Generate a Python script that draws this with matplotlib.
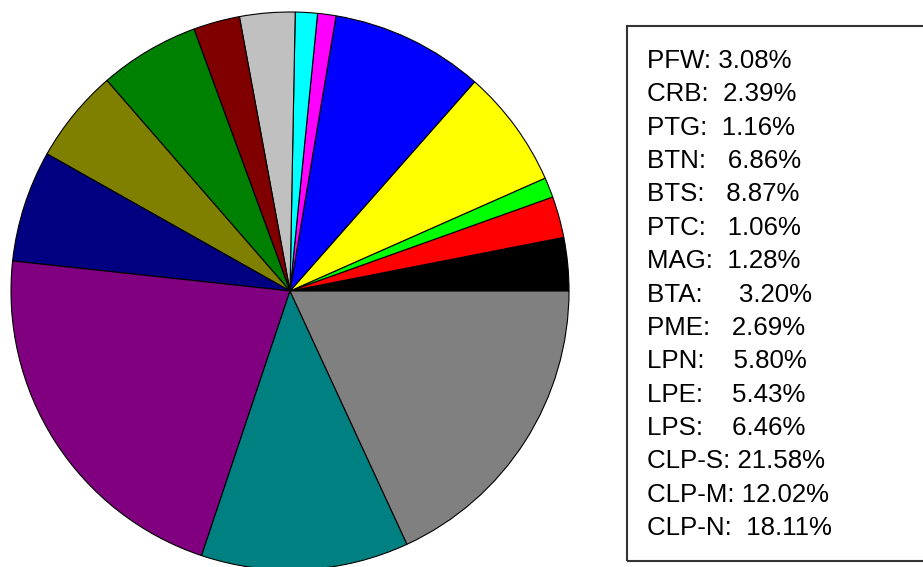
import matplotlib
matplotlib.use("Agg")
import matplotlib.pyplot as plt
from matplotlib.patches import Rectangle

# Slice data, counterclockwise from 3 o'clock
names = ["PFW", "CRB", "PTG", "BTN", "BTS", "PTC", "MAG", "BTA",
         "PME", "LPN", "LPE", "LPS", "CLP-S", "CLP-M", "CLP-N"]
shares = [3.08, 2.39, 1.16, 6.86, 8.87, 1.06, 1.28, 3.20,
          2.69, 5.80, 5.43, 6.46, 21.58, 12.02, 18.11]
colors = ["#000000", "#FF0000", "#00FF00", "#FFFF00", "#0000FF", "#FF00FF",
          "#00FFFF", "#C0C0C0", "#800000", "#008000", "#808000", "#000080",
          "#800080", "#008080", "#808080"]
# spaces between the colon and the value, as in the original legend
gaps = [1, 2, 2, 3, 3, 3, 2, 5, 3, 4, 4, 4, 1, 1, 2]

W, H = 923, 567
fig = plt.figure(figsize=(W / 100, H / 100), dpi=100)

cx, cy, r = 290, 291, 279
ax = fig.add_axes([(cx - r) / W, (H - cy - r) / H, 2 * r / W, 2 * r / H])
ax.pie(shares, colors=colors, startangle=0, counterclock=True,
       wedgeprops=dict(edgecolor="black", linewidth=0.8))
ax.set_xlim(-1, 1)
ax.set_ylim(-1, 1)
ax.set_aspect("equal")
ax.axis("off")
for p in ax.patches:
    p.set_clip_on(False)

# legend box, runs off the right edge
fig.patches.append(Rectangle((627 / W, (H - 561) / H), 320 / W, 535 / H,
                             transform=fig.transFigure, fill=False,
                             edgecolor="#333333", linewidth=1.5))

for i, (n, v, g) in enumerate(zip(names, shares, gaps)):
    base = 68 + i * 33.36
    fig.text(647 / W, (H - base) / H, f"{n}:{' ' * g}{v:.2f}%",
             family="Liberation Sans", fontsize=18.6, va="baseline",
             ha="left", color="black")

fig.savefig("out.png", dpi=100)
